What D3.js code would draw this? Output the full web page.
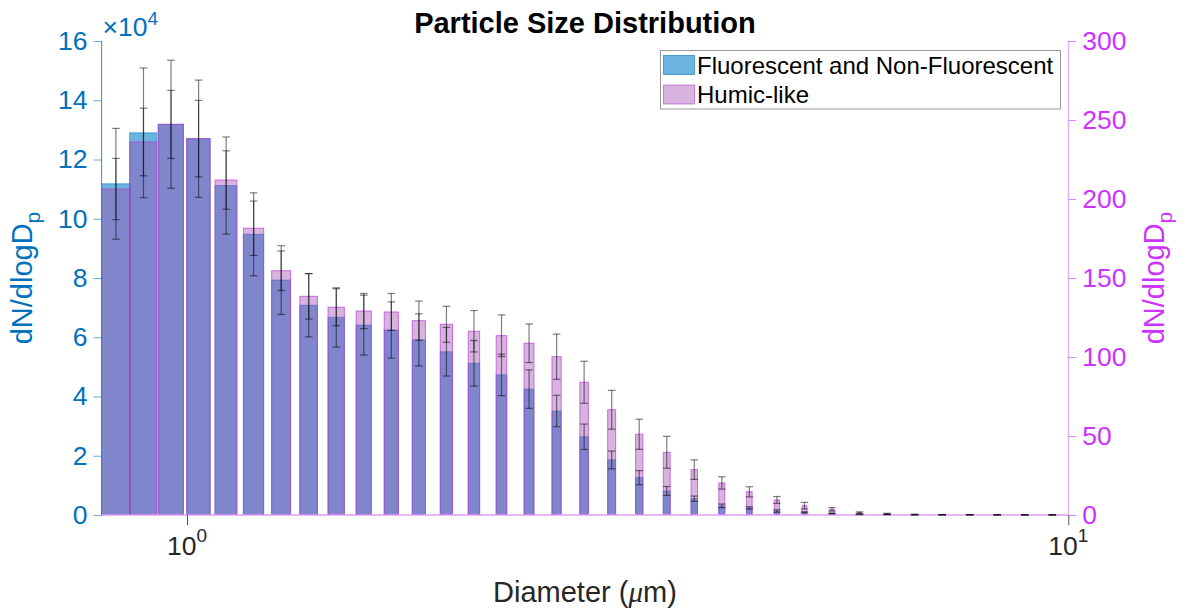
<!DOCTYPE html>
<meta charset="utf-8">
<style>
body { margin: 0; background: #fff; }
svg { font-family: "Liberation Sans", Arial, Helvetica, sans-serif; }
</style>
<body>
<svg width="1191" height="611"></svg>
<script src="https://d3js.org/d3.v7.min.js"></script>
<script>

// bin centres (um)
var diameters = [0.8305, 0.8925, 0.9591, 1.0307, 1.1076, 1.1902, 1.2790, 1.3744, 1.4770, 1.5871,
                 1.7056, 1.8329, 1.9696, 2.1165, 2.2744, 2.4441, 2.6265, 2.8224, 3.0330, 3.2593,
                 3.5024, 3.7637, 4.0445, 4.3463, 4.6705, 5.0190, 5.3934, 5.7958, 6.2282, 6.6929,
                 7.1922, 7.7288, 8.3054, 8.9251, 9.5909];
var barWidth = 0.063;

// Fluorescent and Non-Fluorescent (left axis)
var allCounts = [111800, 129000, 131900, 127000, 111200, 94750, 79300, 70800, 66700, 64100,
                 62450, 59100, 55100, 51200, 47300, 42500, 35100, 26400, 18600, 12600,
                 8100, 5500, 3100, 2400, 1350, 900, 500, 200, 150, 100,
                 80, 60, 50, 40, 30];
var allErr = [18700, 21900, 21600, 19800, 16400, 14000, 11600, 10700, 10000, 10100,
              9500, 8800, 8200, 7700, 7000, 6500, 5300, 4300, 3000, 2400,
              1500, 900, 600, 400, 400, 200, 100, 100, 50, 40,
              30, 30, 20, 20, 20];

// Humic-like (right axis)
var humic = [206.3, 236.1, 247.2, 238.2, 212.0, 181.5, 154.6, 138.4, 131.5, 129.1,
             128.5, 123.0, 120.7, 116.3, 113.5, 108.7, 100.2, 84.0, 66.6, 51.1,
             39.7, 28.7, 20.3, 14.7, 9.5, 5.9, 3.6, 1.5, 0.8, 0.3,
             0.2, 0.2, 0.15, 0.1, 0.1];
var humicErr = [19.4, 21.4, 21.5, 24.2, 18.5, 17.2, 12.5, 14.4, 11.7, 11.1,
                11.7, 12.4, 11.4, 13.1, 13.2, 12.2, 14.3, 13.3, 12.3, 9.5,
                10.1, 6.2, 3.9, 3.2, 2.2, 2.1, 1.05, 0.5, 0.3, 0.2,
                0.1, 0.1, 0.1, 0.1, 0.1];

var leftTicks = [0, 20000, 40000, 60000, 80000, 100000, 120000, 140000, 160000];
var rightTicks = [0, 50, 100, 150, 200, 250, 300];
var xMajor = [1, 10];
var xMinor = [0.8, 0.9, 2, 3, 4, 5, 6, 7, 8, 9];

var legendNames = ["Fluorescent and Non-Fluorescent", "Humic-like"];

var blue = "#0072BD", magenta = "#CC33FF";
var blueFill = "#0A82CB", purpleFill = "#A041AF";

var svg = d3.select("svg");
var L = 101.6, R = 1068.3, T = 41, B = 515;

var x = d3.scaleLog().domain([0.8, 10]).range([L, R]);
var yL = d3.scaleLinear().domain([0, 160000]).range([B, T]);
var yR = d3.scaleLinear().domain([0, 300]).range([B, T]);

svg.append("defs").append("clipPath").attr("id", "clip")
  .append("rect").attr("x", L).attr("y", T - 20).attr("width", R - L).attr("height", B - T + 20);

var plot = svg.append("g").attr("clip-path", "url(#clip)");

var bins = diameters.map(function(d, i) {
  return {d: d, a: allCounts[i], ae: allErr[i], h: humic[i], he: humicErr[i]};
});

function barX(d) { return x(d.d - barWidth / 2); }
function barW(d) { return x(d.d + barWidth / 2) - x(d.d - barWidth / 2); }

plot.selectAll(".bA").data(bins).enter().append("rect")
  .attr("x", barX).attr("width", barW)
  .attr("y", function(d) { return yL(d.a); })
  .attr("height", function(d) { return B - yL(d.a); })
  .attr("fill", blueFill).attr("fill-opacity", 0.6)
  .attr("stroke", blue).attr("stroke-opacity", 0.55).attr("stroke-width", 1);

plot.selectAll(".bH").data(bins).enter().append("rect")
  .attr("x", barX).attr("width", barW)
  .attr("y", function(d) { return yR(d.h); })
  .attr("height", function(d) { return B - yR(d.h); })
  .attr("fill", purpleFill).attr("fill-opacity", 0.4)
  .attr("stroke", "#B63FD0").attr("stroke-opacity", 0.7).attr("stroke-width", 1);

// baseline
svg.append("line").attr("x1", L).attr("x2", R).attr("y1", B).attr("y2", B)
  .attr("stroke", "#DE9CF5").attr("stroke-width", 1.5);

function errorBars(cls, val, err, scale) {
  var g = svg.append("g").attr("stroke", "#000").attr("stroke-opacity", 0.5).attr("stroke-width", 1.2);
  bins.forEach(function(d) {
    var cx = x(d.d), y1 = scale(d[val] + d[err]), y0 = scale(Math.max(0, d[val] - d[err]));
    g.append("line").attr("x1", cx).attr("x2", cx).attr("y1", y1).attr("y2", y0);
    g.append("line").attr("x1", cx - 3.8).attr("x2", cx + 3.8).attr("y1", y1).attr("y2", y1);
    g.append("line").attr("x1", cx - 3.8).attr("x2", cx + 3.8).attr("y1", y0).attr("y2", y0);
  });
}
errorBars("eA", "a", "ae", yL);
errorBars("eH", "h", "he", yR);

// x axis
var gx = svg.append("g").attr("transform", "translate(0," + B + ")");
gx.call(d3.axisBottom(x).tickValues(xMinor).tickSize(5).tickFormat(""));
gx.call(d3.axisBottom(x).tickValues(xMajor).tickSize(10).tickFormat(""));
gx.select(".domain").remove();
gx.selectAll("line").attr("stroke", "#555");

xMajor.forEach(function(v) {
  var t = svg.append("text").attr("x", x(v)).attr("y", 555)
    .attr("text-anchor", "middle").attr("font-size", 26.5).attr("fill", "#262626");
  t.append("tspan").text("10");
  t.append("tspan").attr("dy", -13).attr("font-size", 19).text(Math.round(Math.log10(v)));
});

// left axis
var gl = svg.append("g").attr("transform", "translate(" + L + ",0)")
  .call(d3.axisLeft(yL).tickValues(leftTicks).tickSize(8).tickPadding(6)
    .tickFormat(function(v) { return v / 10000; }));
gl.select(".domain").remove();
gl.selectAll("line").attr("stroke", blue).attr("stroke-opacity", 0.6);
gl.selectAll("text").attr("fill", blue).attr("font-size", 26.5)
  .attr("font-family", "Liberation Sans, Arial, sans-serif");
svg.append("line").attr("x1", L).attr("x2", L).attr("y1", T).attr("y2", B)
  .attr("stroke", blue).attr("stroke-opacity", 0.8);

var ex = svg.append("text").attr("x", L + 1).attr("y", 36).attr("fill", blue).attr("font-size", 26.5);
ex.append("tspan").text("\u00d710");
ex.append("tspan").attr("dy", -11).attr("font-size", 19).text("4");

// right axis
var gr = svg.append("g").attr("transform", "translate(" + R + ",0)")
  .call(d3.axisRight(yR).tickValues(rightTicks).tickSize(8).tickPadding(6));
gr.select(".domain").remove();
gr.selectAll("line").attr("stroke", magenta).attr("stroke-opacity", 0.6);
gr.selectAll("text").attr("fill", magenta).attr("font-size", 26.5)
  .attr("font-family", "Liberation Sans, Arial, sans-serif");
svg.append("line").attr("x1", R).attr("x2", R).attr("y1", T).attr("y2", B)
  .attr("stroke", magenta).attr("stroke-opacity", 0.5);

// labels
function yLabel(cx, color) {
  var t = svg.append("text").attr("transform", "translate(" + cx + "," + ((T + B) / 2) + ") rotate(-90)")
    .attr("text-anchor", "middle").attr("font-size", 29).attr("fill", color);
  t.append("tspan").text("dN/dlogD");
  t.append("tspan").attr("dy", 8).attr("font-size", 21).text("p");
}
yLabel(32, blue);
yLabel(1164, magenta);

var xl = svg.append("text").attr("x", (L + R) / 2).attr("y", 602).attr("text-anchor", "middle")
  .attr("font-size", 29).attr("fill", "#262626");
xl.append("tspan").text("Diameter (");
xl.append("tspan").attr("font-family", "Liberation Serif, serif").attr("font-style", "italic").text("\u03bc");
xl.append("tspan").text("m)");

svg.append("text").attr("x", (L + R) / 2).attr("y", 33).attr("text-anchor", "middle")
  .attr("font-size", 29).attr("font-weight", "bold").attr("fill", "#000")
  .text("Particle Size Distribution");

// legend
var lg = svg.append("g");
lg.append("rect").attr("x", 660.5).attr("y", 50.5).attr("width", 400).attr("height", 58.5)
  .attr("fill", "#fff").attr("stroke", "#999");
var swFill = [blueFill, purpleFill], swOp = [0.6, 0.4], swStroke = [blue, "#B63FD0"];
legendNames.forEach(function(name, i) {
  var cy = 65 + i * 29.5;
  lg.append("rect").attr("x", 663.5).attr("y", cy - 9.5).attr("width", 31).attr("height", 19)
    .attr("fill", swFill[i]).attr("fill-opacity", swOp[i])
    .attr("stroke", swStroke[i]).attr("stroke-opacity", 0.6);
  lg.append("text").attr("x", 697).attr("y", cy + 8.5).attr("font-size", 24).attr("fill", "#000").text(name);
});

</script>
</body>
